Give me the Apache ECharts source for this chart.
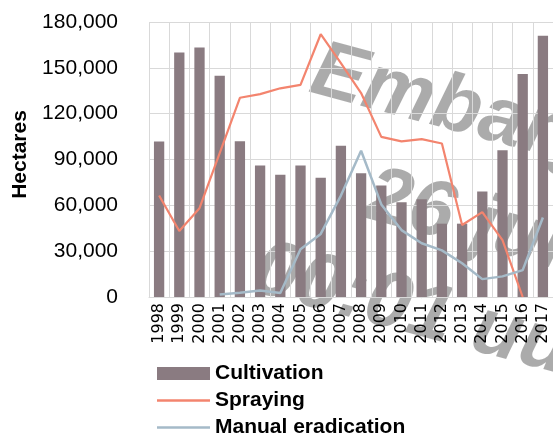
<!DOCTYPE html>
<html>
<head>
<meta charset="utf-8">
<script src="https://cdn.jsdelivr.net/npm/echarts@6/dist/echarts.min.js"></script>
<style>
html,body{margin:0;padding:0;background:#fff;}
#chart{width:553px;height:436px;}
</style>
</head>
<body>
<div id="chart"></div>
<script>
var years = ['1998','1999','2000','2001','2002','2003','2004','2005','2006','2007','2008','2009','2010','2011','2012','2013','2014','2015','2016','2017'];
var cultivation = [101800,160100,163300,144800,102000,86000,80000,86000,78000,99000,81000,73000,62000,64000,48000,48000,69000,96000,146000,171000];
var spraying = [66400,43200,58100,94200,130400,132800,136600,138800,172000,153100,133500,104800,101900,103300,100500,47100,55600,37200,0,null];
var manual = [null,null,null,1700,2800,4200,2600,31300,41300,66400,95700,60600,43800,35200,30500,22100,11700,13500,17600,52000];
var yTicks = [0,30000,60000,90000,120000,150000,180000];
var seriesNames = ['Cultivation','Spraying','Manual eradication'];
var axisTitle = 'Hectares';
var watermarkLines = ['Embargo','26 juni','00:01 uur'];

var chart = echarts.init(document.getElementById('chart'), null, {renderer:'canvas'});
var deg = Math.PI/180;
var wmFont = 'italic bold 80px "Liberation Sans"';
var wmFill = 'rgba(0,0,0,0.33)';
var lineIcon = 'path://M0,0 L53,0 L53,2.5 L0,2.5 Z';
var option = {
  animation:false,
  backgroundColor:'#fff',
  grid:{left:149,right:-1,top:22,bottom:139,containLabel:false},
  legend:{
    orient:'vertical', left:157, top:363, height:90, width:300, padding:0, itemWidth:53, itemHeight:13, itemGap:6,
    symbolKeepAspect:true,
    textStyle:{fontFamily:'Liberation Sans',fontWeight:'bold',fontSize:21,lineHeight:21,color:'#000'},
    data:[
      {name:seriesNames[0], icon:'rect'},
      {name:seriesNames[1], icon:lineIcon},
      {name:seriesNames[2], icon:lineIcon}
    ]
  },
  xAxis:{
    type:'category', data:years, boundaryGap:true,
    axisLine:{show:true,lineStyle:{color:'#D9D9D9',width:1}},
    axisTick:{show:false},
    splitLine:{show:true,lineStyle:{color:'#D9D9D9',width:1}},
    axisLabel:{rotate:90,interval:0,margin:6,fontFamily:'DejaVu Sans',fontSize:16,color:'#000'}
  },
  yAxis:{
    type:'value', min:yTicks[0], max:yTicks[yTicks.length-1], interval:yTicks[1]-yTicks[0],
    name:axisTitle, nameLocation:'middle', nameRotate:90, nameGap:117,
    nameTextStyle:{fontFamily:'Liberation Sans',fontWeight:'bold',fontSize:21,color:'#000',padding:[0,0,0,10]},
    axisLine:{show:false}, axisTick:{show:false},
    splitLine:{show:true,lineStyle:{color:'#D9D9D9',width:1}},
    axisLabel:{margin:31,fontFamily:'Liberation Sans',fontSize:21,color:'#000',
      formatter:function(v){return v.toLocaleString('en-US');}}
  },
  series:[
    {name:seriesNames[0],type:'bar',data:cultivation,barWidth:'51%',itemStyle:{color:'#8A7B81'}},
    {name:seriesNames[1],type:'line',data:spraying,showSymbol:false,symbol:'none',connectNulls:false,
      lineStyle:{color:'#F3846E',width:2.2},itemStyle:{color:'#F3846E'}},
    {name:seriesNames[2],type:'line',data:manual,showSymbol:false,symbol:'none',connectNulls:false,
      lineStyle:{color:'#A5BAC8',width:2.5},itemStyle:{color:'#A5BAC8'}}
  ],
  graphic:[{
    type:'group', x:305, y:100, rotation:-15*deg, z:100, silent:true,
    children:[
      {type:'text', x:0, y:-71, style:{text:watermarkLines[0], font:wmFont, fill:wmFill, verticalAlign:'top'}},
      {type:'text', x:84, y:36, style:{text:watermarkLines[1], font:wmFont, fill:wmFill, verticalAlign:'top'}},
      {type:'text', x:-5, y:136, style:{text:watermarkLines[2], font:wmFont, fill:wmFill, verticalAlign:'top'}}
    ]
  }]
};
chart.setOption(option);
</script>
</body>
</html>
